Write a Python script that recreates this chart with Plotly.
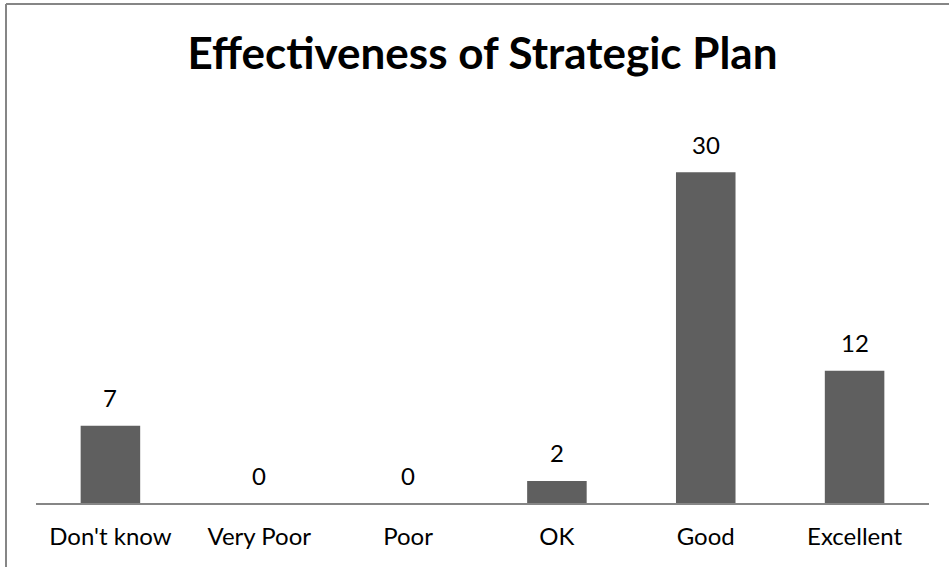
import plotly.graph_objects as go

categories = ["Don't know", "Very Poor", "Poor", "OK", "Good", "Excellent"]
values = [7, 0, 0, 2, 30, 12]
title_text = "Effectiveness of Strategic Plan"

W, H = 949, 567
ML, MR, MT, MB = 36, 20, 117, 64
pw, ph = W - ML - MR, H - MT - MB

FONT = "Lato"

fig = go.Figure()
fig.add_trace(go.Bar(
    x=categories, y=values, width=0.4,
    marker=dict(color="#5f5f5f", line=dict(width=0)),
    hoverinfo="x+y",
))

for c, v in zip(categories, values):
    fig.add_annotation(x=c, y=v, text=str(v), showarrow=False,
                       yanchor="middle", yshift=28,
                       font=dict(family=FONT, size=24, color="#000000"))

# border lines (top and left)
bx = (6 - ML) / pw
by = 1 + (MT - 4) / ph
fig.add_shape(type="line", xref="paper", yref="paper", x0=bx, x1=(W - ML) / pw + 0.01,
              y0=by, y1=by, line=dict(color="#868686", width=2))
fig.add_shape(type="line", xref="paper", yref="paper", x0=bx, x1=bx,
              y0=by, y1=-(MB + 5) / ph, line=dict(color="#868686", width=2))

fig.update_layout(
    width=W, height=H,
    margin=dict(l=ML, r=MR, t=MT, b=MB),
    paper_bgcolor="white", plot_bgcolor="white",
    showlegend=False,
    title=dict(text="<b>" + title_text + "</b>", x=0.5, xref="paper",
               y=1 - 54 / H, yanchor="middle",
               font=dict(family=FONT, size=44, color="#000000")),
    bargap=0.6,
)
fig.update_xaxes(showline=True, linecolor="#868686", linewidth=2,
                 ticks="", showgrid=False, ticklabelstandoff=11,
                 tickfont=dict(family=FONT, size=24, color="#000000"))
fig.update_yaxes(range=[0, 35], visible=False, showgrid=False, zeroline=False)

fig.write_html("out.html")
